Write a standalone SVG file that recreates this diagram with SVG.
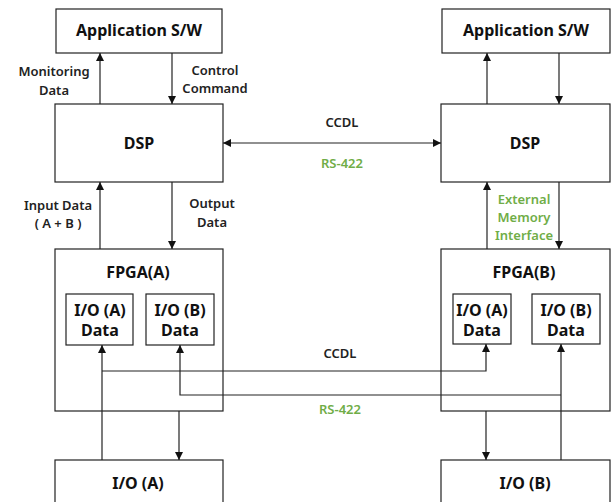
<svg xmlns="http://www.w3.org/2000/svg" width="614" height="502" viewBox="0 0 614 502">
<style>
.box{fill:#fff;stroke:#222;stroke-width:1.2}
.ln{fill:none;stroke:#222;stroke-width:1.2}
.t{font-family:"Noto Sans","Open Sans",sans-serif;font-weight:bold;font-size:16px;fill:#111;text-anchor:middle}
.s{font-family:"Noto Sans","Open Sans",sans-serif;font-weight:600;font-size:13px;fill:#222;text-anchor:middle}
.g{fill:#70AD47}
</style>
<defs>
<marker id="ah" viewBox="0 0 10 10" refX="10" refY="5" markerWidth="8" markerHeight="8" markerUnits="userSpaceOnUse" orient="auto-start-reverse">
<path d="M0,0 L10,5 L0,10 z" fill="#111"/>
</marker>
</defs>
<rect width="614" height="502" fill="#fff"/>
<g id="app-a"><rect class="box" x="56" y="9" width="166" height="44"/><text class="t" x="139" y="36">Application S/W</text></g>
<g id="app-b"><rect class="box" x="442" y="9" width="168" height="44"/><text class="t" x="526" y="36">Application S/W</text></g>
<g id="dsp-a"><rect class="box" x="55" y="104" width="168" height="78"/><text class="t" x="139" y="149">DSP</text></g>
<g id="dsp-b"><rect class="box" x="441" y="104" width="169" height="78"/><text class="t" x="525" y="149">DSP</text></g>
<g id="fpga-a"><rect class="box" x="55" y="249" width="168" height="162"/><text class="t" x="138" y="278">FPGA(A)</text></g>
<g id="fpga-a-ioa"><rect class="box" x="66" y="294" width="67" height="51"/><text class="t" x="100" y="316">I/O (A)</text><text class="t" x="100" y="336">Data</text></g>
<g id="fpga-a-iob"><rect class="box" x="146" y="294" width="68" height="51"/><text class="t" x="180" y="316">I/O (B)</text><text class="t" x="180" y="336">Data</text></g>
<g id="fpga-b"><rect class="box" x="441" y="249" width="169" height="162"/><text class="t" x="524" y="278">FPGA(B)</text></g>
<g id="fpga-b-ioa"><rect class="box" x="453" y="294" width="58" height="50"/><text class="t" x="482" y="316">I/O (A)</text><text class="t" x="482" y="336">Data</text></g>
<g id="fpga-b-iob"><rect class="box" x="532" y="294" width="68" height="50"/><text class="t" x="566" y="316">I/O (B)</text><text class="t" x="566" y="336">Data</text></g>
<g id="io-a"><rect class="box" x="55" y="460" width="168" height="60"/><text class="t" x="138" y="489">I/O (A)</text></g>
<g id="io-b"><rect class="box" x="441" y="460" width="169" height="60"/><text class="t" x="525" y="489">I/O (B)</text></g>
<g id="connectors">
<line class="ln" x1="100" y1="104" x2="100" y2="53" marker-end="url(#ah)"/>
<line class="ln" x1="172" y1="53" x2="172" y2="104" marker-end="url(#ah)"/>
<line class="ln" x1="487" y1="104" x2="487" y2="53" marker-end="url(#ah)"/>
<line class="ln" x1="559" y1="53" x2="559" y2="104" marker-end="url(#ah)"/>
<line class="ln" x1="223" y1="143" x2="441" y2="143" marker-start="url(#ah)" marker-end="url(#ah)"/>
<line class="ln" x1="100" y1="249" x2="100" y2="182" marker-end="url(#ah)"/>
<line class="ln" x1="172" y1="182" x2="172" y2="249" marker-end="url(#ah)"/>
<line class="ln" x1="487" y1="249" x2="487" y2="182" marker-end="url(#ah)"/>
<line class="ln" x1="559" y1="182" x2="559" y2="249" marker-end="url(#ah)"/>
<line class="ln" x1="102" y1="460" x2="102" y2="345" marker-end="url(#ah)"/>
<polyline class="ln" points="102,371 486,371 486,344" marker-end="url(#ah)"/>
<line class="ln" x1="561" y1="460" x2="561" y2="344" marker-end="url(#ah)"/>
<polyline class="ln" points="561,395 180,395 180,345" marker-end="url(#ah)"/>
<line class="ln" x1="179" y1="411" x2="179" y2="460" marker-end="url(#ah)"/>
<line class="ln" x1="486" y1="411" x2="486" y2="460" marker-end="url(#ah)"/>
</g>
<g id="labels">
<text class="s" x="54" y="76">Monitoring</text>
<text class="s" x="54" y="95">Data</text>
<text class="s" x="215" y="75">Control</text>
<text class="s" x="215" y="93">Command</text>
<text class="s" x="342" y="127">CCDL</text>
<text class="s g" x="342" y="168">RS-422</text>
<text class="s" x="58" y="210">Input  Data</text>
<text class="s" x="58" y="228">( A + B )</text>
<text class="s" x="212" y="208">Output</text>
<text class="s" x="212" y="227">Data</text>
<text class="s g" x="524" y="204">External</text>
<text class="s g" x="524" y="222">Memory</text>
<text class="s g" x="524" y="240">Interface</text>
<text class="s" x="340" y="358">CCDL</text>
<text class="s g" x="340" y="414">RS-422</text>
</g>
</svg>
